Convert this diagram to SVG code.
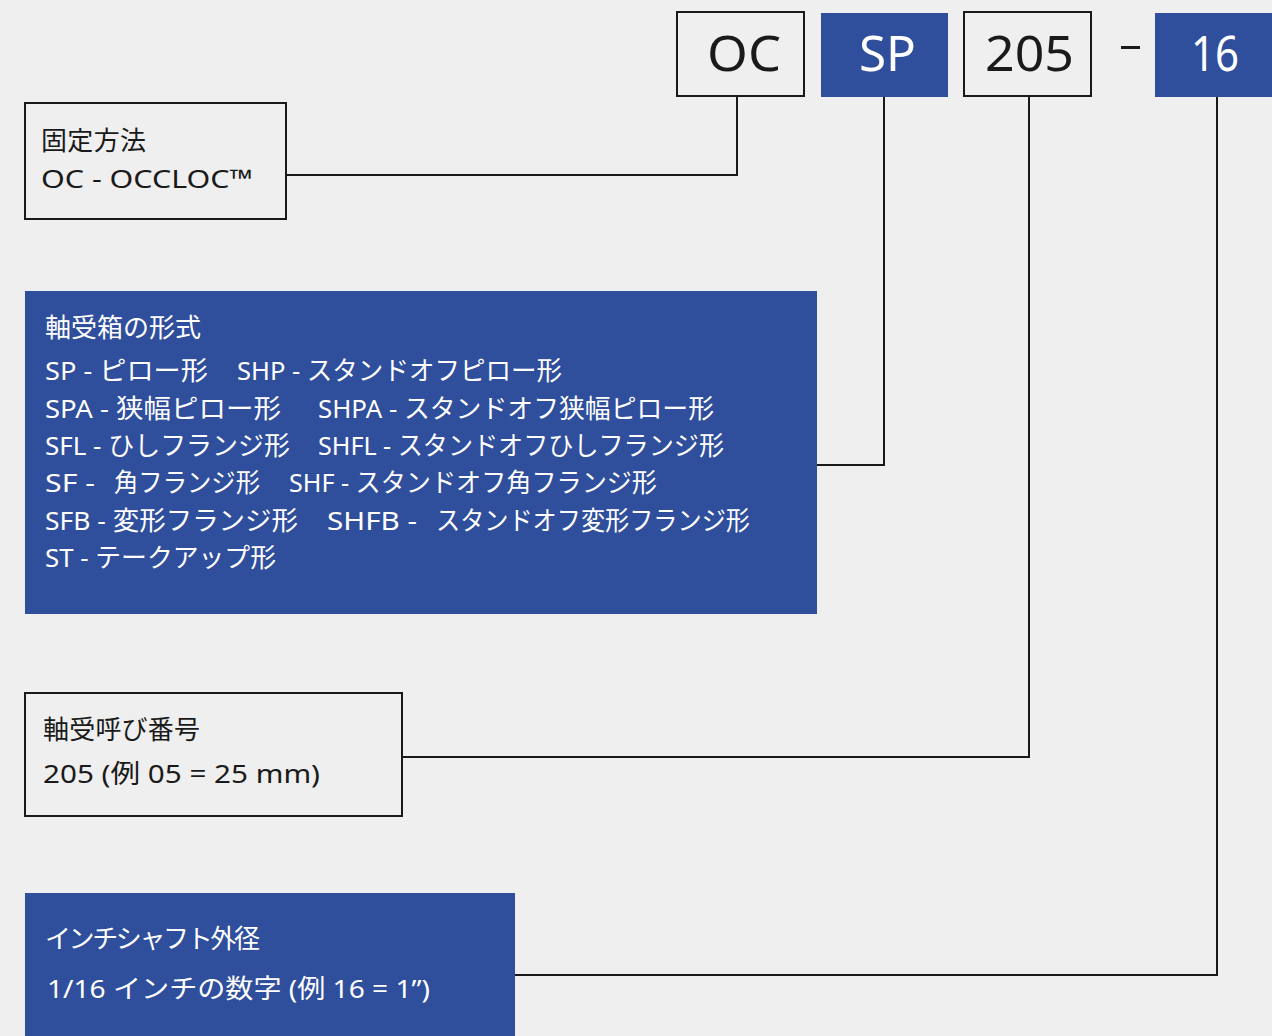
<svg xmlns="http://www.w3.org/2000/svg" width="1272" height="1036" viewBox="0 0 1272 1036">
<style>
.bg{fill:#efefef}
.wb{fill:#efefef;stroke:#1a1a1a;stroke-width:2}
.bb{fill:#2f4e9c}
.t{font-family:"Noto Sans","Noto Sans CJK JP",sans-serif;font-size:26px;fill:#1a1a1a}
.tw{font-family:"Noto Sans","Noto Sans CJK JP",sans-serif;font-size:26px;fill:#ffffff}
.big{font-family:"Noto Sans","Noto Sans CJK JP",sans-serif;font-size:50px}
.c{fill:none;stroke:#1a1a1a;stroke-width:2}
</style>
<rect class="bg" x="0" y="0" width="1272" height="1036"/>
<g id="code-oc"><rect class="wb" x="677" y="12" width="127" height="84"/><text class="big" x="707" y="71" textLength="74" lengthAdjust="spacingAndGlyphs" fill="#1a1a1a">OC</text></g>
<g id="code-sp"><rect class="bb" x="821" y="13" width="127" height="84"/><text class="big" x="859" y="71" textLength="57" lengthAdjust="spacingAndGlyphs" fill="#fff">SP</text></g>
<g id="code-205"><rect class="wb" x="964" y="12" width="127" height="84"/><text class="big" x="985" y="71" textLength="89" lengthAdjust="spacingAndGlyphs" fill="#1a1a1a">205</text></g>
<g id="dash"><rect x="1121" y="46" width="19" height="3" fill="#1a1a1a"/></g>
<g id="code-16"><rect class="bb" x="1155" y="13" width="117" height="84"/><text class="big" x="1191" y="71" textLength="48" lengthAdjust="spacingAndGlyphs" fill="#fff">16</text></g>
<g id="n-fix"><rect class="wb" x="25" y="103" width="261" height="116"/>
<text class="t" x="41" y="150" textLength="105">固定方法</text><text class="t" x="41" y="188" textLength="212" lengthAdjust="spacingAndGlyphs">OC - OCCLOC™</text></g>
<g id="n-housing"><rect class="bb" x="25" y="291" width="792" height="323"/>
<text class="tw" x="45" y="337" textLength="156">軸受箱の形式</text>
<text class="tw" x="45" y="380" textLength="163" lengthAdjust="spacingAndGlyphs">SP - ピロー形</text>
<text class="tw" x="237" y="380" textLength="325" lengthAdjust="spacingAndGlyphs">SHP - スタンドオフピロー形</text>
<text class="tw" x="45" y="418" textLength="236" lengthAdjust="spacingAndGlyphs">SPA - 狭幅ピロー形</text>
<text class="tw" x="318" y="418" textLength="396" lengthAdjust="spacingAndGlyphs">SHPA - スタンドオフ狭幅ピロー形</text>
<text class="tw" x="45" y="455" textLength="245" lengthAdjust="spacingAndGlyphs">SFL - ひしフランジ形</text>
<text class="tw" x="318" y="455" textLength="406" lengthAdjust="spacingAndGlyphs">SHFL - スタンドオフひしフランジ形</text>
<text class="tw" x="45" y="492" textLength="50" lengthAdjust="spacingAndGlyphs">SF -</text>
<text class="tw" x="114" y="492" textLength="146" lengthAdjust="spacingAndGlyphs">角フランジ形</text>
<text class="tw" x="289" y="492" textLength="368" lengthAdjust="spacingAndGlyphs">SHF - スタンドオフ角フランジ形</text>
<text class="tw" x="45" y="530" textLength="253" lengthAdjust="spacingAndGlyphs">SFB - 変形フランジ形</text>
<text class="tw" x="327" y="530" textLength="90" lengthAdjust="spacingAndGlyphs">SHFB -</text>
<text class="tw" x="436" y="530" textLength="314" lengthAdjust="spacingAndGlyphs">スタンドオフ変形フランジ形</text>
<text class="tw" x="45" y="567" textLength="231" lengthAdjust="spacingAndGlyphs">ST - テークアップ形</text></g>
<g id="n-number"><rect class="wb" x="25" y="693" width="377" height="123"/>
<text class="t" x="43" y="739" textLength="157">軸受呼び番号</text><text class="t" x="43" y="783" textLength="277" lengthAdjust="spacingAndGlyphs">205 (例 05 = 25 mm)</text></g>
<g id="n-shaft"><rect class="bb" x="25" y="893" width="490" height="143"/>
<text class="tw" x="45" y="948" textLength="215">インチシャフト外径</text><text class="tw" x="47" y="998" textLength="383" lengthAdjust="spacingAndGlyphs">1/16 インチの数字 (例 16 = 1”)</text></g>
<g id="connectors">
<polyline class="c" points="737,97 737,175 286,175"/>
<polyline class="c" points="884,97 884,465 817,465"/>
<polyline class="c" points="1029,97 1029,757 402,757"/>
<polyline class="c" points="1217,97 1217,975 515,975"/>
</g>
</svg>
